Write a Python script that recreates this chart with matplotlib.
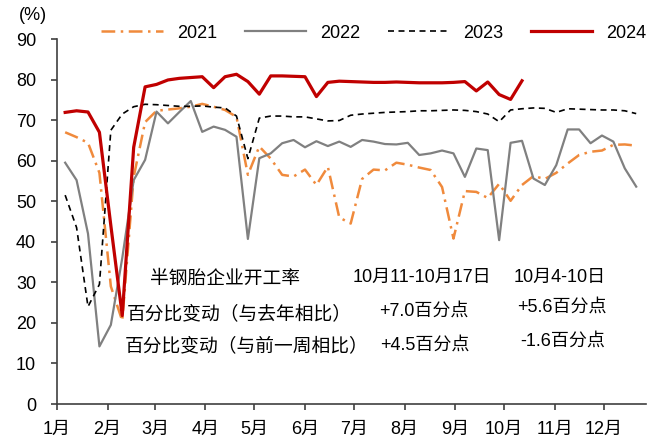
import matplotlib
matplotlib.use('Agg')
import matplotlib.pyplot as plt
import matplotlib.dates as mdates
import pandas as pd

plt.rcParams['font.family'] = ['Liberation Sans', 'Noto Sans CJK SC']
plt.rcParams['axes.unicode_minus'] = False

# weekly readings, aligned on a common calendar (month/day)
start = '2024-01-06'

y2021 = [67.0, 65.8, 64.4, 57.0, 29.0, 20.5, 56.0, 69.5, 72.3, 72.6, 72.9, 73.3, 74.0,
         73.3, 72.5, 70.8, 56.5, 63.5, 60.5, 56.5, 56.1, 57.8, 54.0, 58.5, 46.0, 44.5,
         55.5, 57.8, 57.6, 59.5, 59.0, 58.3, 57.7, 53.5, 40.8, 52.5, 52.3, 50.8, 54.3,
         50.1, 54.0, 56.2, 55.5, 57.0, 59.3, 61.4, 62.2, 62.5, 63.9, 64.0, 63.7]
y2022 = [59.5, 55.2, 42.0, 14.2, 19.5, 36.0, 55.2, 60.2, 72.1, 69.2, 72.0, 74.7, 67.1,
         68.4, 67.6, 65.9, 40.7, 60.6, 61.8, 64.3, 65.1, 63.3, 64.8, 63.6, 64.7, 63.4,
         65.1, 64.7, 64.1, 64.0, 64.4, 61.4, 61.8, 62.5, 61.8, 56.0, 63.0, 62.6, 40.4,
         64.4, 64.9, 55.6, 54.0, 58.9, 67.7, 67.7, 64.3, 66.2, 64.7, 58.1, 53.6]
y2023 = [51.5, 43.5, 24.0, 29.5, 67.5, 71.5, 73.3, 73.9, 73.8, 73.6, 73.4, 73.4, 73.5,
         73.2, 73.0, 71.0, 60.5, 70.5, 71.0, 71.0, 70.8, 70.8, 70.3, 69.8, 69.9, 71.2,
         71.5, 71.7, 71.9, 72.0, 72.1, 72.3, 72.3, 72.4, 72.5, 72.4, 72.1, 71.5, 69.6,
         72.5, 72.8, 73.0, 72.9, 71.9, 72.8, 72.7, 72.6, 72.5, 72.5, 72.3, 71.6]
y2024 = [71.9, 72.3, 72.0, 67.0, 44.0, 21.8, 63.3, 78.2, 78.8, 79.9, 80.3, 80.5, 80.7,
         78.0, 80.7, 81.3, 79.5, 76.4, 80.9, 80.9, 80.8, 80.7, 75.8, 79.3, 79.6, 79.5,
         79.4, 79.3, 79.3, 79.4, 79.3, 79.2, 79.2, 79.2, 79.3, 79.5, 77.2, 79.4, 76.3,
         75.1, 79.7]

row_labels = ['半钢胎企业开工率', '百分比变动（与去年相比）', '百分比变动（与前一周相比）']
col_this = ['10月11-10月17日', '+7.0百分点', '+4.5百分点']
col_prev = ['10月4-10日', '+5.6百分点', '-1.6百分点']

W, H = 653, 448
fig = plt.figure(figsize=(W / 100, H / 100), dpi=100)
ax = fig.add_axes([57 / W, 1 - 404 / H, (646 - 57) / W, (404 - 39) / H])

def weeks(vals):
    return pd.date_range(start, periods=len(vals), freq='7D')

ax.plot(weeks(y2021), y2021, color='#F08A3C', lw=1.8, ls=(0, (5.5, 2.2, 1, 2.2)), label='2021')
ax.plot(weeks(y2022), y2022, color='#808080', lw=1.6, label='2022')
ax.plot(weeks(y2023), y2023, color='black', lw=1.2, ls=(0, (3.6, 2.7)), label='2023')
ax.plot(weeks(y2024), y2024, color='#C00000', lw=2.3, label='2024')

ax.set_ylim(0, 90)
ax.set_yticks(range(0, 91, 10))
ax.set_xlim(pd.Timestamp('2024-01-01'), pd.Timestamp('2024-12-27'))
ax.xaxis.set_major_locator(mdates.MonthLocator())
ax.xaxis.set_major_formatter(plt.FuncFormatter(lambda v, p: f'{mdates.num2date(v).month}月'))

for s in ['top', 'right']:
    ax.spines[s].set_visible(False)
for s in ['left', 'bottom']:
    ax.spines[s].set_color('#404040')
    ax.spines[s].set_linewidth(1.2)
ax.tick_params(axis='both', labelsize=13, color='#404040', length=4, width=1.2)
ax.tick_params(axis='y', pad=11)
ax.tick_params(axis='x', pad=8)

fig.legend(loc='center', bbox_to_anchor=(374 / W, 1 - 33 / H), ncol=4, frameon=False,
           fontsize=13, handlelength=3.4, handletextpad=0.8, columnspacing=1.5)
fig.text(33 / W, 1 - 15 / H, '(%)', ha='center', va='center', fontsize=13)

# annotation table
fs = 13.5
fig.text(225 / W, 1 - 279 / H, row_labels[0], ha='center', va='center', fontsize=fs)
fig.text(127 / W, 1 - 314 / H, row_labels[1], ha='left', va='center', fontsize=fs)
fig.text(125 / W, 1 - 346 / H, row_labels[2], ha='left', va='center', fontsize=fs)
for txt, (x, y) in zip(col_this, [(422, 277), (424, 311), (425, 345)]):
    fig.text(x / W, 1 - y / H, txt, ha='center', va='center', fontsize=13)
for txt, (x, y) in zip(col_prev, [(560, 277), (562, 307), (563, 341)]):
    fig.text(x / W, 1 - y / H, txt, ha='center', va='center', fontsize=13)

fig.savefig('out.png', dpi=100)
